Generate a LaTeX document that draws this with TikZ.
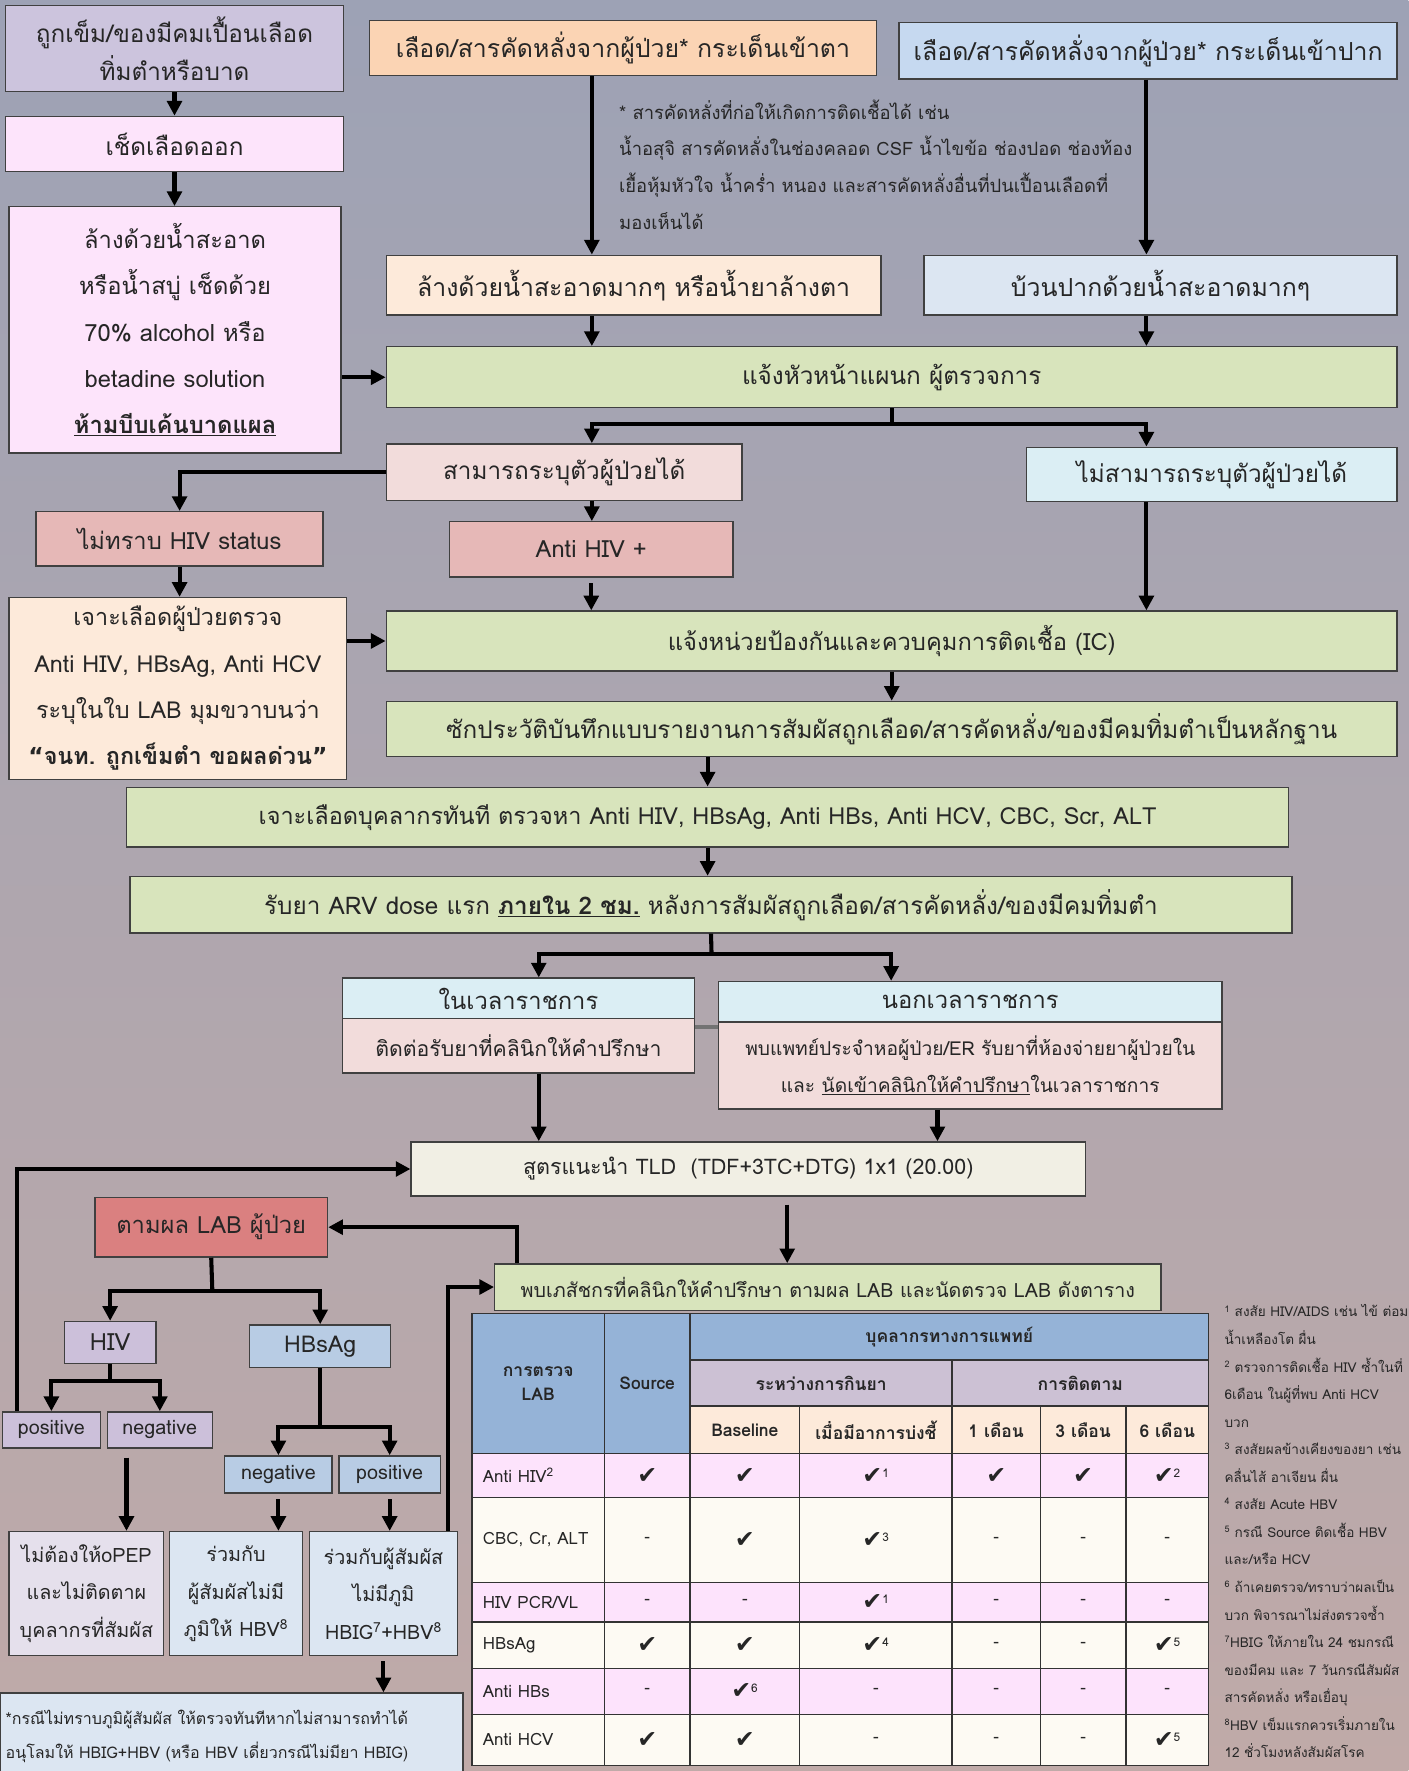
\documentclass[tikz,border=0pt]{standalone}
\usepackage{fontspec}
\setmainfont[Script=Thai]{Loma}
\newfontfamily\symf{DejaVu Sans}
\usetikzlibrary{arrows.meta}

\definecolor{bgtop}{RGB}{157,162,181}
\definecolor{bgmid}{RGB}{170,160,172}
\definecolor{bgbot}{RGB}{192,170,168}
\definecolor{lavbox}{RGB}{204,196,221}
\definecolor{pinkbox}{RGB}{253,228,251}
\definecolor{orangebox}{RGB}{251,212,180}
\definecolor{bluebox}{RGB}{198,217,240}
\definecolor{peachbox}{RGB}{253,234,218}
\definecolor{paleblue}{RGB}{220,230,242}
\definecolor{greenbox}{RGB}{216,228,188}
\definecolor{rosebox}{RGB}{242,220,219}
\definecolor{cyanbox}{RGB}{219,238,244}
\definecolor{redbox}{RGB}{230,184,183}
\definecolor{creambox}{RGB}{241,239,228}
\definecolor{labred}{RGB}{218,128,128}
\definecolor{hivbox}{RGB}{204,192,218}
\definecolor{hbvbox}{RGB}{184,204,228}
\definecolor{lilacbox}{RGB}{229,224,236}
\definecolor{thead}{RGB}{149,179,215}
\definecolor{tsub}{RGB}{204,193,212}
\definecolor{trowa}{RGB}{253,227,252}
\definecolor{trowb}{RGB}{253,250,243}

\newcommand{\ck}{{\symf\fontsize{21}{21}\selectfont ✔}}
\newcommand{\cks}[1]{{\symf\fontsize{21}{21}\selectfont ✔}\textsuperscript{#1}}

\begin{document}
\begin{tikzpicture}[x=1pt, y=-1pt,
    box/.style={draw=black!75, line width=1.2pt, align=center, inner sep=2pt, text=black!85},
    fsz/.style 2 args={font=\fontsize{#1}{#2}\selectfont},
    arr/.style={line width=3.6pt, -{Triangle[length=13pt,width=13pt]}},
    pipe/.style={line width=3.6pt},
    grid/.style={line width=1.3pt, draw=black!80},
    thtext/.style={font=\fontsize{15.5}{22}\selectfont\bfseries, text=black!85, align=center},
    cell/.style={font=\fontsize{15}{18}\selectfont, text=black!85}]

\useasboundingbox (0,0) rectangle (1247,1568);
\shade[top color=bgtop, middle color=bgmid, bottom color=bgbot] (0,0) rectangle (1247,1568);

% Left column: needle stick
\node[box, fill=lavbox, minimum width=299, minimum height=76, fsz={21.5}{34}] (needle) at (154.5,43) {ถูกเข็ม/ของมีคมเปื้อนเลือด\\ทิ่มตำหรือบาด};
\node[box, fill=pinkbox, minimum width=299, minimum height=49, fsz={21.5}{24}] (wipe) at (154.5,127.5) {เช็ดเลือดออก};
\node[box, fill=pinkbox, minimum width=294, minimum height=218, fsz={21}{41}] (wash) at (155,292) {ล้างด้วยน้ำสะอาด\\หรือน้ำสบู่ เช็ดด้วย\\70\% alcohol หรือ\\betadine solution\\\underline{\textbf{ห้ามบีบเค้นบาดแผล}}};

% Splash into eye / mouth
\node[box, fill=orangebox, minimum width=449, minimum height=49, fsz={22}{24}] (eye) at (551.5,42.5) {เลือด/สารคัดหลั่งจากผู้ป่วย* กระเด็นเข้าตา};
\node[box, fill=bluebox, minimum width=441, minimum height=50, fsz={22}{24}] (mouth) at (1016.5,45) {เลือด/สารคัดหลั่งจากผู้ป่วย* กระเด็นเข้าปาก};
\node[fsz={16.3}{32.5}, align=left, anchor=north west, inner sep=0pt, text=black!85] (fluids) at (548,88) {* สารคัดหลั่งที่ก่อให้เกิดการติดเชื้อได้ เช่น\\น้ำอสุจิ สารคัดหลั่งในช่องคลอด CSF น้ำไขข้อ ช่องปอด ช่องท้อง\\เยื้อหุ้มหัวใจ น้ำคร่ำ หนอง และสารคัดหลั่งอื่นที่ปนเปื้อนเลือดที่\\มองเห็นได้};
\node[box, fill=peachbox, minimum width=438, minimum height=53, fsz={22}{24}] (rinseeye) at (561,252.5) {ล้างด้วยน้ำสะอาดมากๆ หรือน้ำยาล้างตา};
\node[box, fill=paleblue, minimum width=419, minimum height=53, fsz={22}{24}] (rinsemouth) at (1027.5,252.5) {บ้วนปากด้วยน้ำสะอาดมากๆ};

% Main flow
\node[box, fill=greenbox, minimum width=895, minimum height=54, fsz={21.5}{24}] (head) at (789.5,334) {แจ้งหัวหน้าแผนก ผู้ตรวจการ};
\node[box, fill=rosebox, minimum width=315, minimum height=50, fsz={21.5}{24}] (known) at (499.5,418) {สามารถระบุตัวผู้ป่วยได้};
\node[box, fill=cyanbox, minimum width=328, minimum height=48, fsz={21.5}{24}] (unknown) at (1073,420) {ไม่สามารถระบุตัวผู้ป่วยได้};
\node[box, fill=redbox, minimum width=254, minimum height=48, fsz={21}{24}] (nostatus) at (159,477) {ไม่ทราบ HIV status};
\node[box, fill=redbox, minimum width=251, minimum height=49, fsz={21}{24}] (hivpos) at (523.5,486.5) {Anti HIV +};
\node[box, fill=peachbox, minimum width=299, minimum height=161, fsz={20.7}{41}] (srclab) at (157.5,609.5) {เจาะเลือดผู้ป่วยตรวจ\\Anti HIV, HBsAg, Anti HCV\\ระบุในใบ LAB มุมขวาบนว่า\\\textbf{{\symf “}จนท. ถูกเข็มตำ ขอผลด่วน{\symf ”}}};
\node[box, fill=greenbox, minimum width=895, minimum height=53, fsz={21}{24}] (ic) at (789.5,567.5) {แจ้งหน่วยป้องกันและควบคุมการติดเชื้อ (IC)};
\node[box, fill=greenbox, minimum width=895, minimum height=49, fsz={21.5}{24}] (report) at (789.5,645.5) {ซักประวัติบันทึกแบบรายงานการสัมผัสถูกเลือด/สารคัดหลั่ง/ของมีคมทิ่มตำเป็นหลักฐาน};
\node[box, fill=greenbox, minimum width=1029, minimum height=53, fsz={20.8}{24}] (stafflab) at (626.5,723.5) {เจาะเลือดบุคลากรทันที ตรวจหา Anti HIV, HBsAg, Anti HBs, Anti HCV, CBC, Scr, ALT};
\node[box, fill=greenbox, minimum width=1029, minimum height=50, fsz={21.5}{24}] (arv) at (629.5,801) {รับยา ARV dose แรก \underline{\textbf{ภายใน 2 ชม.}} หลังการสัมผัสถูกเลือด/สารคัดหลั่ง/ของมีคมทิ่มตำ};

% Office hours
\node[box, fill=cyanbox, minimum width=312, minimum height=36, fsz={21}{24}] (inhrs) at (459,884) {ในเวลาราชการ};
\node[box, fill=rosebox, minimum width=312, minimum height=48, fsz={18.8}{24}] (inhrsb) at (459,926) {ติดต่อรับยาที่คลินิกให้คำปรึกษา};
\node[box, fill=cyanbox, minimum width=446, minimum height=36, fsz={21}{24}] (outhrs) at (859,887) {นอกเวลาราชการ};
\node[box, fill=rosebox, minimum width=446, minimum height=77, fsz={17}{33}] (outhrsb) at (859,943.5) {พบแพทย์ประจำหอผู้ป่วย/ER รับยาที่ห้องจ่ายยาผู้ป่วยใน\\และ \underline{นัดเข้าคลินิกให้คำปรึกษา}ในเวลาราชการ};
\node[box, fill=creambox, minimum width=597, minimum height=48, fsz={19}{24}] (tld) at (662.5,1035) {สูตรแนะนำ TLD \ (TDF+3TC+DTG) 1x1 (20.00)};

% Patient lab results
\node[box, fill=labred, minimum width=206, minimum height=53, fsz={21}{24}] (ptlab) at (187,1086.5) {ตามผล LAB ผู้ป่วย};
\node[box, fill=greenbox, minimum width=590, minimum height=41, fsz={17.4}{24}] (pharm) at (733,1139.5) {พบเภสัชกรที่คลินิกให้คำปรึกษา ตามผล LAB และนัดตรวจ LAB ดังตาราง};
\node[box, fill=hivbox, minimum width=81, minimum height=37, fsz={21}{24}] (hiv) at (97.5,1188.5) {HIV};
\node[box, fill=hbvbox, minimum width=125, minimum height=38, fsz={20.5}{24}] (hbsag) at (283.5,1192) {HBsAg};
\node[box, fill=hivbox, minimum width=87, minimum height=32, fsz={17.5}{20}] (hivp) at (45.5,1266) {positive};
\node[box, fill=hivbox, minimum width=93, minimum height=32, fsz={17.5}{20}] (hivn) at (141.5,1266) {negative};
\node[box, fill=hbvbox, minimum width=95, minimum height=33, fsz={17.5}{20}] (hbn) at (246.5,1305.5) {negative};
\node[box, fill=hbvbox, minimum width=90, minimum height=33, fsz={17.5}{20}] (hbp) at (345,1305.5) {positive};
\node[box, fill=lilacbox, minimum width=137, minimum height=110, fsz={17.5}{33}] (nopep) at (76.5,1411) {ไม่ต้องให้oPEP\\และไม่ติดตาผ\\บุคลากรที่สัมผัส};
\node[box, fill=paleblue, minimum width=118, minimum height=110, fsz={17.5}{33}] (hbvonly) at (209,1411) {ร่วมกับ\\ผู้สัมผัสไม่มี\\ภูมิให้ HBV\textsuperscript{8}};
\node[box, fill=paleblue, minimum width=131, minimum height=110, fsz={17.5}{33}] (hbig) at (339.5,1411) {ร่วมกับผู้สัมผัส\\ไม่มีภูมิ\\HBIG\textsuperscript{7}+HBV\textsuperscript{8}};
\node[box, fill=paleblue, minimum width=410, minimum height=76, text width=400, align=left, fsz={14.2}{30}] (unkimm) at (205,1537) {*กรณีไม่ทราบภูมิผู้สัมผัส ให้ตรวจทันทีหากไม่สามารถทำได้\\อนุโลมให้ HBIG+HBV (หรือ HBV เดี่ยวกรณีไม่มียา HBIG)};

% Connectors
\coordinate (colA) at (524,0);
\coordinate (colB) at (1015,0);
\coordinate (colK) at (477,0);
\coordinate (colL) at (789,0);
\coordinate (colM) at (830,0);
\coordinate (colT) at (697,0);
\coordinate (colP) at (458,0);
\coordinate (colN) at (112,0);
\coordinate (colF) at (397,0);
\coordinate (colG) at (15,0);

\draw[arr] (needle) -- (wipe);
\draw[arr] (wipe.south) -- (wipe.south |- wash.north);
\draw[arr] (wash.east |- head.west) -- (head.west);
\draw[arr] (colA |- eye.south) -- (colA |- rinseeye.north);
\draw[arr] (colB |- mouth.south) -- (colB |- rinsemouth.north);
\draw[arr] (colA |- rinseeye.south) -- (colA |- head.north);
\draw[arr] (colB |- rinsemouth.south) -- (colB |- head.north);

\coordinate (split1) at (789.5,375);
\draw[pipe] (head.south) -- (split1);
\draw[arr] (split1) -| (colA |- known.north);
\draw[arr] (split1) -| (colB |- unknown.north);
\draw[arr] (known.west) -| (nostatus.north);
\draw[arr] (colA |- known.south) -- (colA |- hivpos.north);
\draw[arr, shorten <=5pt] (hivpos.south) -- (hivpos.south |- ic.north);
\draw[arr] (nostatus.south) -- (nostatus.south |- srclab.north);
\draw[arr] (srclab.east |- ic.west) -- (ic.west);
\draw[arr] (colB |- unknown.south) -- (colB |- ic.north);
\draw[arr] (ic.south) -- (report.north);
\draw[arr] (stafflab.north |- report.south) -- (stafflab.north);
\draw[arr] (stafflab.south) -- (stafflab.south |- arv.north);

\coordinate (split2) at (630,845);
\draw[pipe] (arv.south) -- (split2);
\draw[arr] (split2) -| (colK |- inhrs.north);
\draw[arr] (split2) -| (colL |- outhrs.north);
\draw[line width=4pt, black!55] ([yshift=-8pt]inhrsb.north east) -- ([yshift=-8pt]inhrsb.north east -| outhrsb.west);
\draw[arr] (colK |- inhrsb.south) -- (colK |- tld.north);
\draw[arr] (colM |- outhrsb.south) -- (colM |- tld.north);
\draw[arr, shorten <=7pt] (colT |- tld.south) -- (colT |- pharm.north);
\draw[arr] (colP |- pharm.north) |- (ptlab.east);

\coordinate (split3) at (188,1143);
\draw[pipe] (ptlab.south) -- (split3);
\draw[arr] (split3) -| (hiv.north);
\draw[arr] (split3) -| (hbsag.north);
\path (hiv.south) ++(0,15) coordinate (split4);
\draw[pipe] (hiv.south) -- (split4);
\draw[arr] (split4) -| (hivp.north);
\draw[arr] (split4) -| (hivn.north);
\path (hbsag.south) ++(0,52) coordinate (split5);
\draw[pipe] (hbsag.south) -- (split5);
\draw[arr] (split5) -| (hbn.north);
\draw[arr] (split5) -| (hbp.north);
\draw[arr, shorten <=8pt] (colN |- hivn.south) -- (colN |- nopep.north);
\draw[arr, shorten <=5pt] (hbn.south) -- (hbn.south |- hbvonly.north);
\draw[arr, shorten <=5pt] (hbp.south) -- (hbp.south |- hbig.north);
\draw[arr, shorten <=4pt] (hbig.south) -- (hbig.south |- unkimm.north);
\draw[arr] (colF |- hbig.north) |- (pharm.west);
\draw[arr] (colG |- hivp.north) |- (tld.west);

% Lab schedule table
\foreach \ya/\yb/\col in {1287/1326/trowa,1326/1401/trowb,1401/1436/trowa,1436/1477/trowb,1477/1518/trowa,1518/1563/trowb}
  \fill[\col] (418,\ya) rectangle (1070,\yb);
\fill[thead] (418,1163) rectangle (611,1287);
\fill[thead] (611,1163) rectangle (1070,1204);
\fill[tsub] (611,1204) rectangle (1070,1245);
\fill[peachbox] (611,1245) rectangle (1070,1287);
\draw[grid] (418,1163) rectangle (1070,1563);
\foreach \y in {1287,1326,1401,1436,1477,1518}
  \draw[grid] (418,\y) -- (1070,\y);
\foreach \y in {1204,1245}
  \draw[grid] (611,\y) -- (1070,\y);
\foreach \x in {535,611}
  \draw[grid] (\x,1163) -- (\x,1563);
\draw[grid] (843,1204) -- (843,1563);
\foreach \x in {708,921,997}
  \draw[grid] (\x,1245) -- (\x,1563);

\node[thtext] (thlab) at (476.5,1225) {การตรวจ\\LAB};
\node[thtext] (thsrc) at (573,1225) {Source};
\node[thtext] (thhcw) at (840.5,1183.5) {บุคลากรทางการแพทย์};
\node[thtext] (thdrug) at (727,1224.5) {ระหว่างการกินยา};
\node[thtext] (thfollow) at (956.5,1224.5) {การติดตาม};
\foreach \x/\t [count=\i] in {659.5/Baseline, 775.5/เมื่อมีอาการบ่งชี้, 882/1 เดือน, 959/3 เดือน, 1033.5/6 เดือน}
  \node[thtext] (th\i) at (\x,1266) {\t};

\foreach \yc/\lab/\qa/\qb/\qc/\qd/\qe/\qf [count=\r] in {
    1306.5/{Anti HIV\textsuperscript{2}}/\ck/\ck/\cks{1}/\ck/\ck/\cks{2},
    1363.5/{CBC, Cr, ALT}/-/\ck/\cks{3}/-/-/-,
    1418.5/{HIV PCR/VL}/-/-/\cks{1}/-/-/-,
    1456.5/HBsAg/\ck/\ck/\cks{4}/-/-/\cks{5},
    1497.5/Anti HBs/-/\cks{6}/-/-/-/-,
    1540.5/Anti HCV/\ck/\ck/-/-/-/\cks{5}}
{
  \node[cell, anchor=west] (lab\r) at (424,\yc) {\lab};
  \node[cell] (c\r a) at (573,\yc) {\qa};
  \node[cell] (c\r b) at (659.5,\yc) {\qb};
  \node[cell] (c\r c) at (775.5,\yc) {\qc};
  \node[cell] (c\r d) at (882,\yc) {\qd};
  \node[cell] (c\r e) at (959,\yc) {\qe};
  \node[cell] (c\r f) at (1033.5,\yc) {\qf};
}

% Footnotes
\node[fsz={12}{24.4}, align=left, anchor=north west, inner sep=0pt, text=black!85] (notes) at (1084,1155) {%
\textsuperscript{1} สงสัย HIV/AIDS เช่น ไข้ ต่อม\\
น้ำเหลืองโต ผื่น\\
\textsuperscript{2} ตรวจการติดเชื้อ HIV ซ้ำในที่\\
6เดือน ในผู้ที่พบ Anti HCV\\
บวก\\
\textsuperscript{3} สงสัยผลข้างเคียงของยา เช่น\\
คลื่นไส้ อาเจียน ผื่น\\
\textsuperscript{4} สงสัย Acute HBV\\
\textsuperscript{5} กรณี Source ติดเชื้อ HBV\\
และ/หรือ HCV\\
\textsuperscript{6} ถ้าเคยตรวจ/ทราบว่าผลเป็น\\
บวก พิจารณาไม่ส่งตรวจซ้ำ\\
\textsuperscript{7}HBIG ให้ภายใน 24 ชมกรณี\\
ของมีคม และ 7 วันกรณีสัมผัส\\
สารคัดหลั่ง หรือเยื่อบุ\\
\textsuperscript{8}HBV เข็มแรกควรเริ่มภายใน\\
12 ชั่วโมงหลังสัมผัสโรค};
\end{tikzpicture}
\end{document}
